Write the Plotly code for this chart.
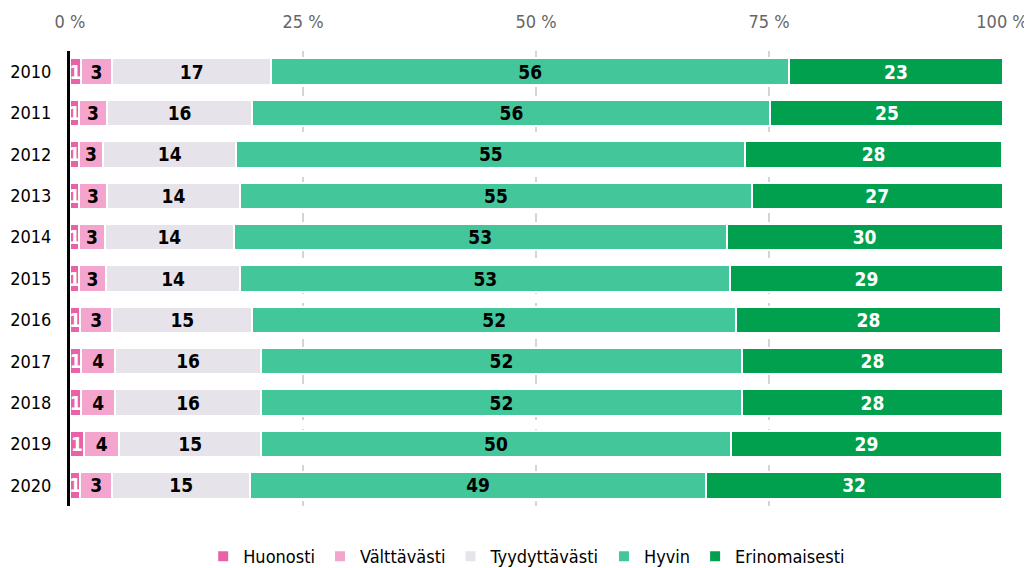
import plotly.graph_objects as go

years = ["2010", "2011", "2012", "2013", "2014", "2015", "2016", "2017", "2018", "2019", "2020"]
huonosti = [1.15, 0.97, 0.95, 0.97, 0.97, 0.97, 1.11, 1.22, 1.22, 1.49, 1.11]
valttavasti = [3.38, 2.99, 2.6, 2.99, 2.79, 2.89, 3.42, 3.61, 3.61, 3.81, 3.42]
tyydyttavasti = [17.04, 15.6, 14.3, 14.3, 13.8, 14.4, 15.04, 15.67, 15.67, 15.2, 14.8]
hyvin = [55.6, 55.6, 54.6, 54.9, 52.9, 52.6, 51.9, 51.6, 51.6, 50.4, 48.9]
erinomaisesti = [22.9, 25.0, 27.55, 26.9, 29.6, 29.2, 28.4, 28.0, 28.0, 29.1, 31.8]

series_names = ["Huonosti", "Välttävästi", "Tyydyttävästi", "Hyvin", "Erinomaisesti"]
series_values = [huonosti, valttavasti, tyydyttavasti, hyvin, erinomaisesti]
series_colors = ["#E962A8", "#F4A5CD", "#E6E4EA", "#43C69A", "#00A04F"]
label_colors = ["white", "black", "black", "black", "white"]

x_tickvals = [0, 25, 50, 75, 100]
x_ticktext = ["0 %", "25 %", "50 %", "75 %", "100 %"]

FONT = "DejaVu Sans Condensed, Liberation Sans Narrow, Arial Narrow, sans-serif"

fig = go.Figure()
for name, vals, col, lc in zip(series_names, series_values, series_colors, label_colors):
    fig.add_trace(go.Bar(
        y=years, x=vals, name=name, orientation="h",
        marker=dict(color=col, line=dict(color="white", width=2)),
        texttemplate="%{x:.0f}", textposition="inside", insidetextanchor="middle",
        textangle=0,
        textfont=dict(family=FONT, size=19, color=lc, weight="bold"),
        hoverinfo="skip",
    ))

# page body has an 8px default margin: the figure is sized/offset to compensate
fig.update_layout(
    barmode="stack",
    bargap=0.36,
    width=1024, height=560,
    margin=dict(l=62.3, r=29.7, t=43.4, b=62.4, autoexpand=False),
    paper_bgcolor="white", plot_bgcolor="white",
    font=dict(family=FONT, size=18, color="black"),
    uniformtext=dict(minsize=19, mode="show"),
    showlegend=True,
    legend=dict(orientation="h", x=0.49, xanchor="center", y=-0.111, yanchor="middle",
                font=dict(family=FONT, size=18, color="black"),
                traceorder="normal", itemsizing="constant", itemwidth=30,
                bgcolor="rgba(0,0,0,0)"),
    xaxis=dict(range=[0, 100], side="top", tickvals=x_tickvals, ticktext=x_ticktext,
               showgrid=True, gridcolor="#D5D5D5", griddash="dash", gridwidth=2,
               zeroline=False, showline=False, ticks="", ticklabelstandoff=18,
               tickfont=dict(family=FONT, size=18, color="#666666"),
               fixedrange=True),
    yaxis=dict(categoryorder="array", categoryarray=years, autorange="reversed",
               showline=True, linecolor="black", linewidth=3,
               ticks="outside", ticklen=12, tickcolor="rgba(0,0,0,0)",
               tickfont=dict(family=FONT, size=18, color="black"),
               showgrid=False, zeroline=False, fixedrange=True),
)

fig.write_html("out.html")
